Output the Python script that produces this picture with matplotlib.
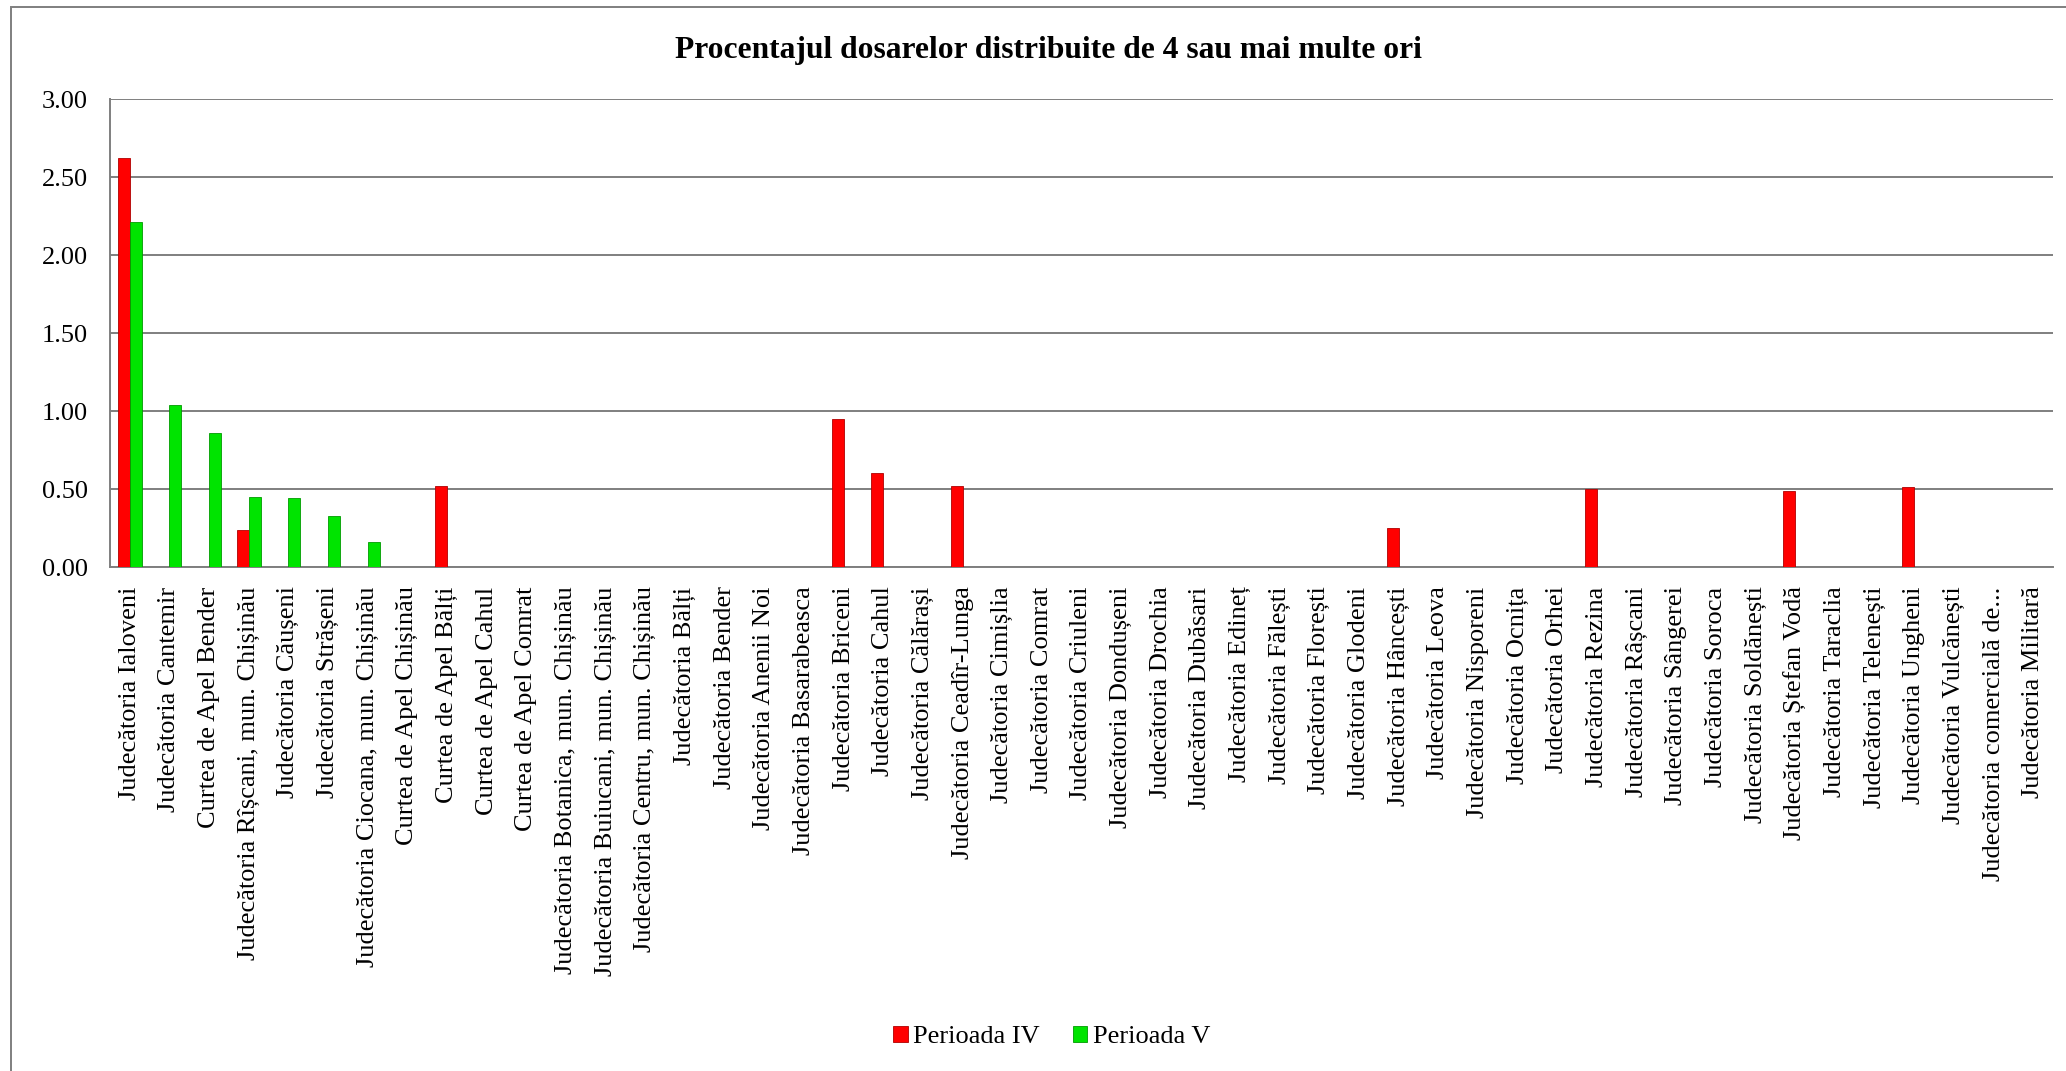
import numpy as np
import matplotlib
matplotlib.use('Agg')
import matplotlib.pyplot as plt
from matplotlib.patches import Rectangle

plt.rcParams['font.family'] = ['Liberation Serif', 'DejaVu Serif']

# Instantele (in ordinea din grafic)
instante = [
    "Judecătoria Ialoveni", "Judecătoria Cantemir", "Curtea de Apel Bender",
    "Judecătoria Rîșcani, mun. Chișinău", "Judecătoria Căușeni", "Judecătoria Strășeni",
    "Judecătoria Ciocana, mun. Chișinău", "Curtea de Apel Chișinău", "Curtea de Apel Bălți",
    "Curtea de Apel Cahul", "Curtea de Apel Comrat", "Judecătoria Botanica, mun. Chișinău",
    "Judecătoria Buiucani, mun. Chișinău", "Judecătoria Centru, mun. Chișinău", "Judecătoria Bălți",
    "Judecătoria Bender", "Judecătoria Anenii Noi", "Judecătoria Basarabeasca",
    "Judecătoria Briceni", "Judecătoria Cahul", "Judecătoria Călărași",
    "Judecătoria Ceadîr-Lunga", "Judecătoria Cimișlia", "Judecătoria Comrat",
    "Judecătoria Criuleni", "Judecătoria Dondușeni", "Judecătoria Drochia",
    "Judecătoria Dubăsari", "Judecătoria Edineț", "Judecătoria Fălești",
    "Judecătoria Florești", "Judecătoria Glodeni", "Judecătoria Hâncești",
    "Judecătoria Leova", "Judecătoria Nisporeni", "Judecătoria Ocnița",
    "Judecătoria Orhei", "Judecătoria Rezina", "Judecătoria Râșcani",
    "Judecătoria Sângerei", "Judecătoria Soroca", "Judecătoria Soldănești",
    "Judecătoria Ștefan Vodă", "Judecătoria Taraclia", "Judecătoria Telenești",
    "Judecătoria Ungheni", "Judecătoria Vulcănești", "Judecătoria comercială de...",
    "Judecătoria Militară",
]

# Perioada IV (procente)
perioada_iv = [2.62, 0, 0, 0.24, 0, 0, 0, 0, 0.52,
               0, 0, 0, 0, 0, 0, 0, 0, 0,
               0.95, 0.60, 0, 0.52, 0, 0, 0, 0, 0,
               0, 0, 0, 0, 0, 0.25, 0, 0, 0,
               0, 0.50, 0, 0, 0, 0, 0.49, 0, 0,
               0.51, 0, 0, 0]

# Perioada V (procente)
perioada_v = [2.21, 1.04, 0.86, 0.45, 0.44, 0.33, 0.16, 0, 0,
              0, 0, 0, 0, 0, 0, 0, 0, 0,
              0, 0, 0, 0, 0, 0, 0, 0, 0,
              0, 0, 0, 0, 0, 0, 0, 0, 0,
              0, 0, 0, 0, 0, 0, 0, 0, 0,
              0, 0, 0, 0]

fig = plt.figure(figsize=(20.66, 10.71), dpi=100)
ax = fig.add_axes([110 / 2066, 1 - 567 / 1071, (2053 - 110) / 2066, (567 - 99) / 1071])

x = np.arange(len(instante))
w = 0.30
ax.bar(x - w / 2, perioada_iv, w, color='#FF0000', edgecolor='#B00000', linewidth=0.6,
       label='Perioada IV', zorder=3)
ax.bar(x + w / 2, perioada_v, w, color='#00E400', edgecolor='#009A00', linewidth=0.6,
       label='Perioada V', zorder=3)

ax.set_xlim(-0.5, len(instante) - 0.5)
ax.set_ylim(0, 3)
ax.set_yticks(np.arange(0, 3.01, 0.5))
ax.set_yticklabels([f"{v:.2f}" for v in np.arange(0, 3.01, 0.5)], fontsize=19)
ax.set_xticks(x)
ax.set_xticklabels(instante, rotation=90, fontsize=19)
ax.tick_params(axis='y', length=0, pad=16)
ax.tick_params(axis='x', length=0, pad=14)

ax.grid(axis='y', color='#7F7F7F', linewidth=1.4, zorder=0)
for s in ['top', 'right']:
    ax.spines[s].set_visible(False)
for s in ['left', 'bottom']:
    ax.spines[s].set_color('#7F7F7F')
    ax.spines[s].set_linewidth(1.4)

fig.text(0.5075, 1 - 50 / 1071, 'Procentajul dosarelor distribuite de 4 sau mai multe ori',
         ha='center', va='center', fontsize=22.7, fontweight='bold')

fig.legend(loc='center', bbox_to_anchor=(0.509, 1 - 1037 / 1071), ncol=2, frameon=False,
           fontsize=19, handlelength=0.55, handleheight=0.55, handletextpad=0.2,
           columnspacing=1.25)

# chenarul graficului
fig.add_artist(Rectangle((10.5 / 2066, -0.05), 1.1, 1.05 - 7 / 1071, transform=fig.transFigure,
                         fill=False, edgecolor='#7F7F7F', linewidth=1.4, clip_on=False))

plt.savefig('out.png', dpi=100)
